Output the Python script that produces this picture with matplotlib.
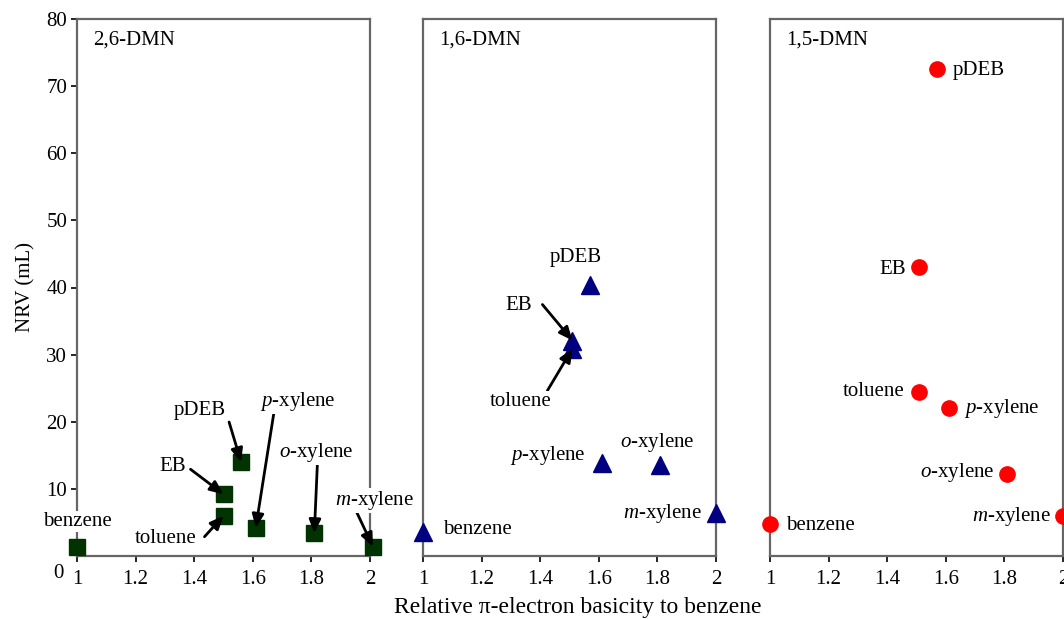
import matplotlib
matplotlib.use("Agg")
import matplotlib.pyplot as plt

plt.rcParams['font.family'] = ['Liberation Serif', 'DejaVu Serif']
plt.rcParams['mathtext.fontset'] = 'custom'
plt.rcParams['mathtext.it'] = 'Liberation Serif:italic'
plt.rcParams['mathtext.rm'] = 'Liberation Serif'

# compounds (same order in every panel)
compounds = ['benzene', 'toluene', 'EB', 'pDEB', 'p-xylene', 'o-xylene', 'm-xylene']
label_text = ['benzene', 'toluene', 'EB', 'pDEB',
              '$\\it{p}$-xylene', '$\\it{o}$-xylene', '$\\it{m}$-xylene']

# relative pi-electron basicity (x) and NRV in mL (y) for each column
basicity_26 = [1.0, 1.50, 1.50, 1.56, 1.61, 1.81, 2.01]
nrv_26 = [1.4, 6.0, 9.2, 14.0, 4.2, 3.4, 1.4]

basicity_16 = [1.0, 1.51, 1.51, 1.57, 1.61, 1.81, 2.0]
nrv_16 = [3.6, 30.9, 32.1, 40.4, 13.8, 13.5, 6.4]

basicity_15 = [1.0, 1.51, 1.51, 1.57, 1.61, 1.81, 2.0]
nrv_15 = [4.8, 24.5, 43.0, 72.5, 22.1, 12.2, 6.0]

xticks = [1, 1.2, 1.4, 1.6, 1.8, 2]
xticklabels = ['1', '1.2', '1.4', '1.6', '1.8', '2']

# label placement per panel: (text dx, dy in px, ha, arrow tail dx,dy, arrow head dx,dy)
place_26 = {
    'benzene': (0, 25, 'center', None, None),
    'toluene': (-27, -23, 'right', (-19, -21), (-4, -10)),
    'EB': (-37, 28, 'right', (-33, 25), (-8, 6)),
    'pDEB': (-41, 52, 'center', (-12, 40), (-2, 10)),
    'p-xylene': (42, 126, 'center', (18, 114), (1, 10)),
    'o-xylene': (2, 81, 'center', (3, 68), (1, 10)),
    'm-xylene': (2, 46, 'center', (-17, 36), (-2, 9)),
}
place_16 = {
    'benzene': (20, 2, 'left', None, None),
    'toluene': (-52, -53, 'center', (-25, -42), (-2, -5)),
    'EB': (-54, 35, 'center', (-30, 36), (-4, 4)),
    'pDEB': (-14, 27, 'center', None, None),
    'p-xylene': (-54, 8, 'center', None, None),
    'o-xylene': (-3, 23, 'center', None, None),
    'm-xylene': (-14, 0, 'right', None, None),
}
place_15 = {
    'benzene': (16, -2, 'left', None, None),
    'toluene': (-15, 0, 'right', None, None),
    'EB': (-13, -2, 'right', None, None),
    'pDEB': (16, -1, 'left', None, None),
    'p-xylene': (15, -1, 'left', None, None),
    'o-xylene': (-13, 2, 'right', None, None),
    'm-xylene': (-12, -1, 'right', None, None),
}

panels = [
    ('2,6-DMN', basicity_26, nrv_26, 's', '#003300', 11.0, place_26),
    ('1,6-DMN', basicity_16, nrv_16, '^', '#000080', 12.5, place_16),
    ('1,5-DMN', basicity_15, nrv_15, 'o', '#ff0000', 11.0, place_15),
]

fig = plt.figure(figsize=(10.64, 6.19), dpi=100)
lefts = [77, 423, 770]
spine_col = '#666666'
fs = 15

for i, (title, xs, ys, mk, col, ms, place) in enumerate(panels):
    ax = fig.add_axes([lefts[i] / 1064, 63 / 619, 293 / 1064, 537 / 619])
    ax.plot(xs, ys, linestyle='none', marker=mk, color=col, markersize=ms,
            markeredgecolor=col, clip_on=False, zorder=3)
    ax.set_xlim(1, 2)
    ax.set_ylim(0, 80)
    ax.set_xticks(xticks)
    ax.set_xticklabels(xticklabels, fontsize=fs)
    ax.tick_params(axis='x', direction='out', length=4, width=1.2, pad=6)
    if i == 0:
        ax.set_yticks([10, 20, 30, 40, 50, 60, 70, 80])
        ax.tick_params(axis='y', direction='out', length=4, width=1.2, labelsize=fs, pad=3)
        ax.annotate('0', xy=(0, 0), xycoords='axes fraction', xytext=(-13, -18),
                    textcoords='offset pixels', ha='right', va='center', fontsize=fs)
        ax.set_ylabel('NRV (mL)', fontsize=fs, labelpad=8)
    else:
        ax.set_yticks([])
    for s in ax.spines.values():
        s.set_color(spine_col)
        s.set_linewidth(1.6)
    ax.text(16 / 293, 1 - 21 / 537, title, transform=ax.transAxes,
            ha='left', va='center', fontsize=fs)

    for name, lab, x, y in zip(compounds, label_text, xs, ys):
        dx, dy, ha, tail, head = place[name]
        ax.annotate(lab, xy=(x, y), xytext=(dx, dy), textcoords='offset pixels',
                    ha=ha, va='center', fontsize=fs, zorder=4, annotation_clip=False,
                    bbox=dict(boxstyle='square,pad=0.05', fc='white', ec='none'))
        if tail is not None:
            ax.annotate('', xy=(x, y), xytext=tail, textcoords='offset pixels',
                        annotation_clip=False,
                        arrowprops=dict(arrowstyle='-|>,head_length=0.8,head_width=0.35',
                                        color='black', lw=2, shrinkA=0,
                                        shrinkB=0, relpos=(0, 0)))

fig.text(578 / 1064, 1 - 608 / 619, 'Relative π-electron basicity to benzene',
         ha='center', va='center', fontsize=17)

fig.savefig('out.png', dpi=100)
